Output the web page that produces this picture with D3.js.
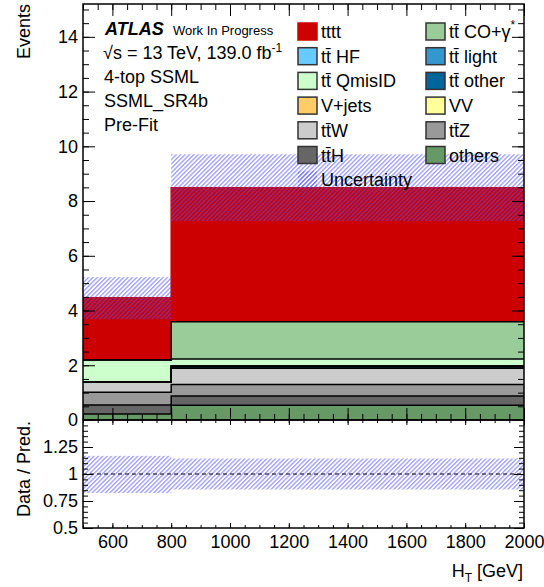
<!DOCTYPE html>
<html>
<head>
<meta charset="utf-8">
<script src="https://cdn.jsdelivr.net/npm/d3@7"></script>
<style>
  body { margin: 0; background: #fff; }
  svg { display: block; }
  text { font-family: "Liberation Sans", Arial, Helvetica, sans-serif; fill: #000; }
</style>
</head>
<body>
<svg width="544" height="587"></svg>
<script>

// bin edges of H_T [GeV]
const binEdges = [500, 800, 2000];

// expected events per bin, stacked bottom -> top
const others  = [0.22, 0.54];
const ttH     = [0.33, 0.34];
const ttZ     = [0.46, 0.42];
const ttW     = [0.39, 0.59];
const VV      = [0.00, 0.00];
const Vjets   = [0.00, 0.00];
const ttOther = [0.00, 0.08];
const ttLight = [0.00, 0.00];
const ttHF    = [0.00, 0.00];
const QmisID  = [0.79, 0.26];
const ttCO    = [0.00, 1.36];
const tttt    = [2.28, 4.90];

// uncertainty band (events) per bin
const uncLow  = [3.68, 7.27];
const uncHigh = [5.22, 9.71];

const yTicksMain  = [0, 2, 4, 6, 8, 10, 12, 14];
const yTicksRatio = [0.5, 0.75, 1, 1.25];
const xTicks      = [600, 800, 1000, 1200, 1400, 1600, 1800, 2000];

const layers = [
  {key: 'others',  vals: others,  color: '#669966'},
  {key: 'ttH',     vals: ttH,     color: '#666666'},
  {key: 'ttZ',     vals: ttZ,     color: '#999999'},
  {key: 'ttW',     vals: ttW,     color: '#cccccc'},
  {key: 'VV',      vals: VV,      color: '#ffff99'},
  {key: 'Vjets',   vals: Vjets,   color: '#ffcc66'},
  {key: 'ttOther', vals: ttOther, color: '#006699'},
  {key: 'ttLight', vals: ttLight, color: '#3399cc'},
  {key: 'ttHF',    vals: ttHF,    color: '#66ccff'},
  {key: 'QmisID',  vals: QmisID,  color: '#ccffcc'},
  {key: 'ttCO',    vals: ttCO,    color: '#99cc99'},
  {key: 'tttt',    vals: tttt,    color: '#cc0000'}
];
const colorOf = {};
layers.forEach(l => colorOf[l.key] = l.color);

const legendCol1 = [['tttt', 'tttt'], ['ttHF', 'tt\u0304 HF'], ['QmisID', 'tt\u0304 QmisID'],
                    ['Vjets', 'V+jets'], ['ttW', 'tt\u0304W'], ['ttH', 'tt\u0304H']];
const legendCol2 = [['ttCO', 'tt\u0304 CO+\u03b3'], ['ttLight', 'tt\u0304 light'], ['ttOther', 'tt\u0304 other'],
                    ['VV', 'VV'], ['ttZ', 'tt\u0304Z'], ['others', 'others']];

//-------------- GEOMETRY ---------------------------------
const L = 83, R = 524, TOP = 4, MID = 420, BOT = 528;
const svg = d3.select('svg');

const x  = d3.scaleLinear().domain([500, 2000]).range([L, R]);
const y  = d3.scaleLinear().domain([0, 15.2]).range([MID, TOP]);
const yr = d3.scaleLinear().domain([0.5, 1.5]).range([BOT, MID]);

//-------------- HATCH ------------------------------------
const defs = svg.append('defs');
defs.append('pattern')
    .attr('id', 'hatch')
    .attr('patternUnits', 'userSpaceOnUse')
    .attr('width', 3.1).attr('height', 3.1)
    .attr('patternTransform', 'rotate(45)')
  .append('line')
    .attr('x1', 1.5).attr('y1', -1).attr('x2', 1.5).attr('y2', 5)
    .attr('stroke', '#5050ff').attr('stroke-width', 0.75);

//-------------- STACK ------------------------------------
const rows = binEdges.slice(0, -1).map((e, i) => {
  const r = {lo: e, hi: binEdges[i + 1]};
  layers.forEach(l => r[l.key] = l.vals[i]);
  return r;
});
const stack = d3.stack().keys(layers.map(l => l.key))(rows);

// points at the bin edges, last one repeated for the step curve
const stepPts = s => s.map(d => ({x: d.data.lo, y0: d[0], y1: d[1]}))
                      .concat([{x: s[s.length - 1].data.hi, y0: s[s.length - 1][0], y1: s[s.length - 1][1]}]);

const area = d3.area().curve(d3.curveStepAfter)
               .x(d => x(d.x)).y0(d => y(d.y0)).y1(d => y(d.y1));
const line = d3.line().curve(d3.curveStepAfter)
               .x(d => x(d.x)).y(d => y(d.y1));

const plot = svg.append('g');
plot.selectAll('path.fill')
  .data(stack)
  .join('path')
    .attr('class', 'fill')
    .attr('fill', s => colorOf[s.key])
    .attr('d', s => area(stepPts(s)));

plot.selectAll('path.edge')
  .data(stack)
  .join('path')
    .attr('class', 'edge')
    .attr('fill', 'none')
    .attr('stroke', s => s.key === 'tttt' ? colorOf.tttt : '#000')
    .attr('stroke-width', 1.5)
    .attr('d', s => line(stepPts(s)));

// uncertainty band on the main panel
plot.selectAll('rect.unc')
  .data(rows)
  .join('rect')
    .attr('class', 'unc')
    .attr('x', d => x(d.lo)).attr('width', d => x(d.hi) - x(d.lo))
    .attr('y', (d, i) => y(uncHigh[i]))
    .attr('height', (d, i) => y(uncLow[i]) - y(uncHigh[i]))
    .attr('fill', 'url(#hatch)');

//-------------- RATIO ------------------------------------
const totals = rows.map(r => d3.sum(layers, l => r[l.key]));
svg.append('g').selectAll('rect')
  .data(rows)
  .join('rect')
    .attr('x', d => x(d.lo)).attr('width', d => x(d.hi) - x(d.lo))
    .attr('y', (d, i) => yr(uncHigh[i] / totals[i]))
    .attr('height', (d, i) => yr(uncLow[i] / totals[i]) - yr(uncHigh[i] / totals[i]))
    .attr('fill', 'url(#hatch)');

svg.append('line')
   .attr('x1', x(500)).attr('x2', x(2000))
   .attr('y1', yr(1)).attr('y2', yr(1))
   .attr('stroke', '#000').attr('stroke-width', 1)
   .attr('stroke-dasharray', '4,3');

//-------------- AXES -------------------------------------
function axis(gen, tx, ty) {
  const g = svg.append('g')
               .attr('transform', `translate(${tx},${ty})`)
               .call(gen)
               .attr('font-size', 18)
               .attr('font-family', '"Liberation Sans", Arial, sans-serif');
  g.select('.domain').remove();
  g.selectAll('.tick line').attr('stroke', '#000');
  return g;
}
const noLab = () => '';
const minorMain  = d3.range(0, 15.2, 0.5);
const minorRatio = d3.range(0.5, 1.501, 0.05);
const minorX     = d3.range(500, 2001, 50);

// main panel
axis(d3.axisLeft(y).tickValues(yTicksMain).tickSize(-12).tickPadding(5).tickFormat(d3.format('d')), L, 0);
axis(d3.axisLeft(y).tickValues(minorMain).tickSize(-6).tickFormat(noLab), L, 0);
axis(d3.axisRight(y).tickValues(yTicksMain).tickSize(-12).tickFormat(noLab), R, 0);
axis(d3.axisRight(y).tickValues(minorMain).tickSize(-6).tickFormat(noLab), R, 0);
axis(d3.axisTop(x).tickValues(xTicks).tickSize(-12).tickFormat(noLab), 0, TOP);
axis(d3.axisTop(x).tickValues(minorX).tickSize(-6).tickFormat(noLab), 0, TOP);
axis(d3.axisBottom(x).tickValues(xTicks).tickSize(-12).tickFormat(noLab), 0, MID);
axis(d3.axisBottom(x).tickValues(minorX).tickSize(-6).tickFormat(noLab), 0, MID);

// ratio panel
axis(d3.axisLeft(yr).tickValues(yTicksRatio).tickSize(-10).tickPadding(5).tickFormat(d => d), L, 0);
axis(d3.axisLeft(yr).tickValues(minorRatio).tickSize(-5).tickFormat(noLab), L, 0);
axis(d3.axisRight(yr).tickValues(yTicksRatio).tickSize(-10).tickFormat(noLab), R, 0);
axis(d3.axisRight(yr).tickValues(minorRatio).tickSize(-5).tickFormat(noLab), R, 0);
axis(d3.axisBottom(x).tickValues(xTicks).tickSize(-5).tickPadding(7).tickFormat(d3.format('d')), 0, BOT);
axis(d3.axisBottom(x).tickValues(minorX).tickSize(-3).tickFormat(noLab), 0, BOT);
axis(d3.axisTop(x).tickValues(xTicks).tickSize(-5).tickFormat(noLab), 0, MID);
axis(d3.axisTop(x).tickValues(minorX).tickSize(-3).tickFormat(noLab), 0, MID);

// frames
[[TOP, MID], [MID, BOT]].forEach(([a, b]) => {
  svg.append('rect')
     .attr('x', L).attr('y', a).attr('width', R - L).attr('height', b - a)
     .attr('fill', 'none').attr('stroke', '#000').attr('stroke-width', 1.5);
});

//-------------- LABELS -----------------------------------
svg.append('text')
   .attr('transform', `translate(30,${TOP}) rotate(-90)`)
   .attr('text-anchor', 'end').attr('font-size', 18)
   .text('Events');
svg.append('text')
   .attr('transform', `translate(30,${MID + 1}) rotate(-90)`)
   .attr('text-anchor', 'end').attr('font-size', 18)
   .text('Data / Pred.');

const xl = svg.append('text')
   .attr('x', 523).attr('y', 577)
   .attr('text-anchor', 'end').attr('font-size', 18);
xl.append('tspan').text('H');
xl.append('tspan').attr('font-size', 12).attr('dy', 5).text('T');
xl.append('tspan').attr('dy', -5).text(' [GeV]');

// ATLAS block
const atl = svg.append('text').attr('x', 105).attr('y', 35).attr('font-size', 18);
atl.append('tspan').attr('font-weight', 'bold').attr('font-style', 'italic').text('ATLAS');
atl.append('tspan').attr('x', 173).attr('font-size', 13).text('Work In Progress');

const sq = svg.append('text').attr('x', 103).attr('y', 59).attr('font-size', 18);
sq.append('tspan').text('\u221as = 13 TeV, 139.0 fb');
sq.append('tspan').attr('font-size', 12).attr('dy', -7).text('-1');

['4-top SSML', 'SSML_SR4b', 'Pre-Fit'].forEach((t, i) => {
  svg.append('text').attr('x', 104).attr('y', 83 + i * 24).attr('font-size', 18).text(t);
});

//-------------- LEGEND -----------------------------------
const rowH = 24.7;
[[legendCol1, 298], [legendCol2, 426]].forEach(([col, x0]) => {
  col.forEach(([key, lab], i) => {
    svg.append('rect')
       .attr('x', x0).attr('y', 23 + i * rowH).attr('width', 19).attr('height', 17)
       .attr('fill', colorOf[key])
       .attr('stroke', key === 'tttt' ? colorOf.tttt : '#333')
       .attr('stroke-width', 1.5);
    const t = svg.append('text').attr('x', x0 + 23).attr('y', 38 + i * rowH).attr('font-size', 18).text(lab);
    if (key === 'ttCO') {
      t.append('tspan').attr('font-size', 12).attr('dy', -9).text('*');
    }
  });
});
svg.append('rect')
   .attr('x', 298).attr('y', 23 + 6 * rowH).attr('width', 19).attr('height', 17)
   .attr('fill', 'url(#hatch)');
svg.append('text').attr('x', 321).attr('y', 38 + 6 * rowH).attr('font-size', 18).text('Uncertainty');

</script>
</body>
</html>
